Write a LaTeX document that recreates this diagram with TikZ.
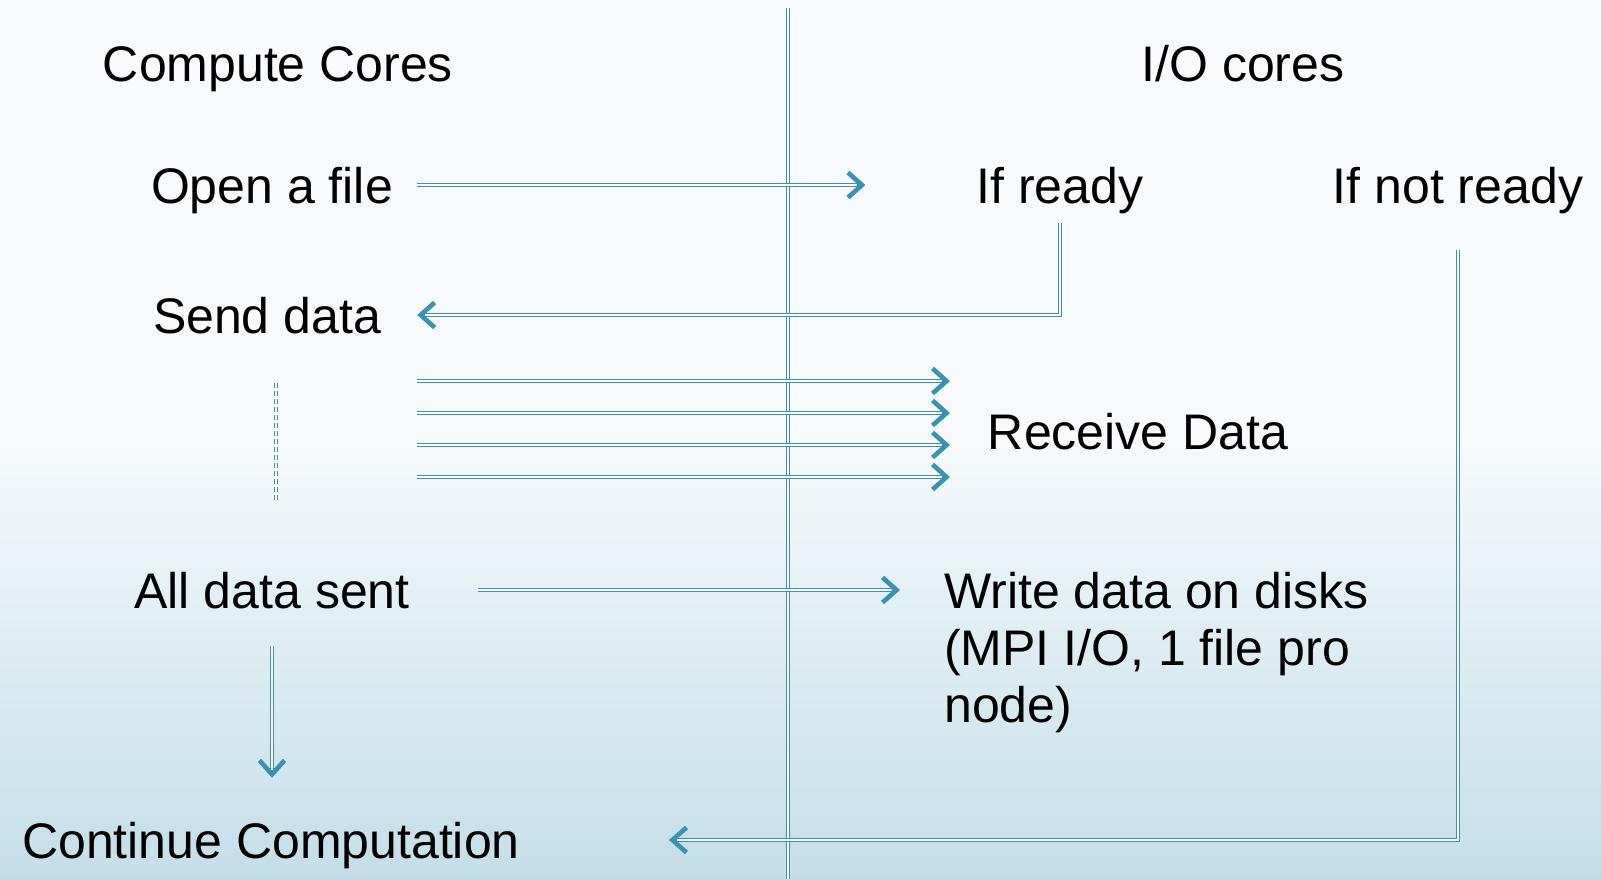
\documentclass[tikz,border=0pt]{standalone}
\usepackage{fontspec}
\setmainfont{Liberation Sans}
\usepackage{tikz}
\usetikzlibrary{arrows.meta, positioning}
\definecolor{flowblue}{RGB}{58,145,178}
\definecolor{bgtop}{RGB}{246,250,252}
\definecolor{bgbot}{RGB}{196,222,233}
\tikzset{
  txt/.style={inner sep=0pt, text height=36pt, text depth=0pt,
    font=\fontsize{50}{57}\selectfont},
  para/.style={inner sep=0pt, align=left, font=\fontsize{50}{57}\selectfont},
  flow/.style={draw=flowblue, line width=4.4pt,
    -{Straight Barb[length=14pt, width=25pt, line width=4.6pt 0]}},
  core/.style={draw=white, line width=1.6pt},
  divider/.style={flowblue, line width=1pt, double=white, double distance=1.4pt},
  pending/.style={flowblue, line width=1.2pt, double=white, double distance=1.4pt,
    dash pattern=on 5pt off 3pt}
}

\begin{document}
\begin{tikzpicture}[x=1pt, y=-1pt]
  \useasboundingbox (0,0) rectangle (1601,879);
  \fill[bgtop] (0,0) rectangle (1601,440);
  \shade[top color=bgtop, bottom color=bgbot] (0,440) rectangle (1601,879);

  \node[txt] (compute) at (278,63) {Compute Cores};
  \node[txt] (iocores) at (1243,63) {I/O cores};
  \node[txt] (open) at (272,185) {Open a file};
  \node[txt] (ready) at (1060,185) {If ready};
  \node[txt] (notready) at (1458,185) {If not ready};
  \node[txt] (send) at (267,315) {Send data};
  \node[txt] (receive) at (1138,431) {Receive Data};
  \node[txt] (alldata) at (272,590) {All data sent};
  \node[para, anchor=north west] (write) at (944,572) {Write data on disks\\(MPI I/O, 1 file pro\\node)};
  \node[txt] (continue) at (271,840) {Continue Computation};

  % separator between the two kinds of cores
  \draw[divider] (788,8) -- (788,879);

  % outer strokes with heads, then the white core of each double line
  \draw[flow] ([xshift=24pt]open.east) -- ([xshift=-111pt]ready.west);
  \draw[core, shorten >=8pt] ([xshift=24pt]open.east) -- ([xshift=-111pt]ready.west);
  \draw[flow] ([yshift=-20pt]ready.south) |- ([xshift=36pt]send.east);
  \draw[core, shorten >=8pt] ([yshift=-20pt]ready.south) |- ([xshift=36pt]send.east);
  \foreach \i/\y in {1/381, 2/413, 3/445, 4/477} {
    \coordinate (s\i) at (417,\y);
    \coordinate (r\i) at (950,\y);
    \draw[flow] (s\i) -- (r\i);
    \draw[core, shorten >=8pt] (s\i) -- (r\i);
  }
  \draw[pending] (276,383) -- (276,503);
  \draw[flow] ([xshift=68pt]alldata.east) -- ([xshift=-44pt]alldata.east -| write.west);
  \draw[core, shorten >=8pt] ([xshift=68pt]alldata.east) -- ([xshift=-44pt]alldata.east -| write.west);
  \draw[flow] ([yshift=-38pt]alldata.south) -- ([yshift=44pt]alldata.south |- continue.north);
  \draw[core, shorten >=8pt] ([yshift=-38pt]alldata.south) -- ([yshift=44pt]alldata.south |- continue.north);
  \draw[flow] ([yshift=-47pt]notready.south) |- ([xshift=149pt]continue.east);
  \draw[core, shorten >=8pt] ([yshift=-47pt]notready.south) |- ([xshift=149pt]continue.east);
\end{tikzpicture}
\end{document}
